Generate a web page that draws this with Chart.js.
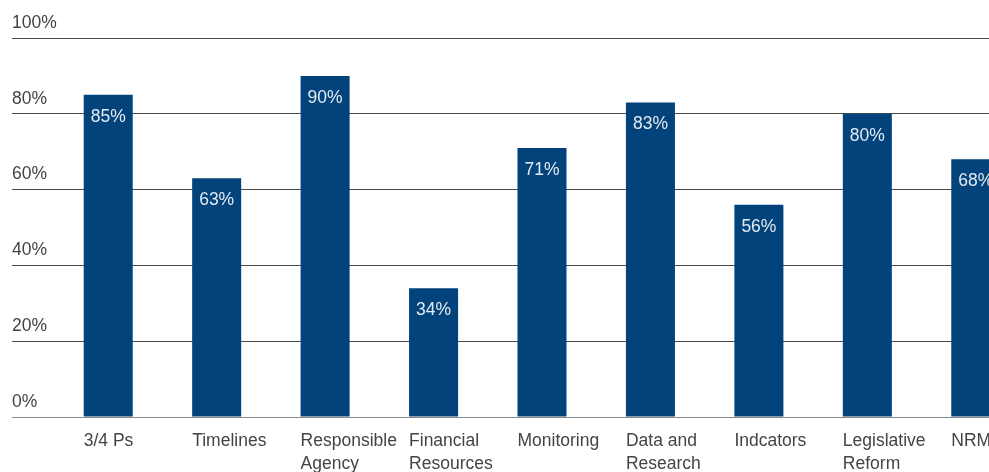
<!DOCTYPE html>
<html>
<head>
<meta charset="utf-8">
<script src="https://cdn.jsdelivr.net/npm/chart.js@4"></script>
<style>
  html, body { margin: 0; padding: 0; background: #fff; overflow: hidden; width: 989px; height: 472px; }
  #wrap { position: absolute; left: 0; top: 0; width: 1030px; height: 474px; }
</style>
</head>
<body>
<div id="wrap"><canvas id="c" width="1030" height="474"></canvas></div>
<script>
const categories = [
  ['3/4 Ps'], ['Timelines'], ['Responsible', 'Agency'], ['Financial', 'Resources'],
  ['Monitoring'], ['Data and', 'Research'], ['Indcators'], ['Legislative', 'Reform'], ['NRM']
];
const values = [85, 63, 90, 34, 71, 83, 56, 80, 68];
const yTicks = [0, 20, 40, 60, 80, 100];

const FONT = "'Liberation Sans', Arial, sans-serif";
const BAR = '#03437B';

const valueLabels = {
  id: 'valueLabels',
  afterDatasetsDraw(chart) {
    const ctx = chart.ctx;
    const meta = chart.getDatasetMeta(0);
    ctx.save();
    ctx.fillStyle = '#e4eaf1';
    ctx.font = '17.5px ' + FONT;
    ctx.textAlign = 'center';
    ctx.textBaseline = 'middle';
    meta.data.forEach((bar, i) => {
      ctx.fillText(values[i] + '%', bar.x, bar.y + 22);
    });
    ctx.restore();
  }
};

// y-axis tick labels sit above their grid lines, left-aligned at the left edge of the grid line
const yLabels = {
  id: 'yLabels',
  afterDraw(chart) {
    const ctx = chart.ctx;
    const y = chart.scales.y;
    ctx.save();
    ctx.fillStyle = '#444';
    ctx.font = '17.5px ' + FONT;
    ctx.textAlign = 'left';
    ctx.textBaseline = 'middle';
    yTicks.forEach(v => {
      ctx.fillText(v + '%', y.left, y.getPixelForValue(v) - 15);
    });
    ctx.restore();
  }
};

new Chart(document.getElementById('c'), {
  type: 'bar',
  data: {
    labels: categories,
    datasets: [{
      data: values,
      backgroundColor: BAR,
      borderWidth: 0,
      barPercentage: 0.452,
      categoryPercentage: 1.0
    }]
  },
  options: {
    responsive: false,
    animation: false,
    layout: { padding: { top: 38, left: 12, right: 0, bottom: 0 } },
    plugins: { legend: { display: false }, tooltip: { enabled: false } },
    scales: {
      x: {
        grid: { display: false, drawTicks: false },
        border: { display: true, color: '#8a8a8a', width: 1 },
        ticks: {
          color: '#444',
          font: { family: FONT, size: 17.5, lineHeight: 1.32 },
          align: 'start',
          labelOffset: -24.5,
          padding: 13,
          maxRotation: 0,
          autoSkip: false
        },
        afterFit(s) { s.height = 57; }
      },
      y: {
        min: 0, max: 100,
        afterBuildTicks(s) { s.ticks = yTicks.map(v => ({ value: v })); },
        grid: {
          color: c => (c.tick && c.tick.value === 0) ? '#8a8a8a' : '#4a4a4a',
          tickColor: c => (c.tick && c.tick.value === 0) ? '#8a8a8a' : '#4a4a4a',
          lineWidth: 1, drawTicks: true, tickLength: 42
        },
        border: { display: false },
        ticks: { display: false },
        afterFit(s) { s.width = 42; }
      }
    }
  },
  plugins: [valueLabels, yLabels]
});
</script>
</body>
</html>
